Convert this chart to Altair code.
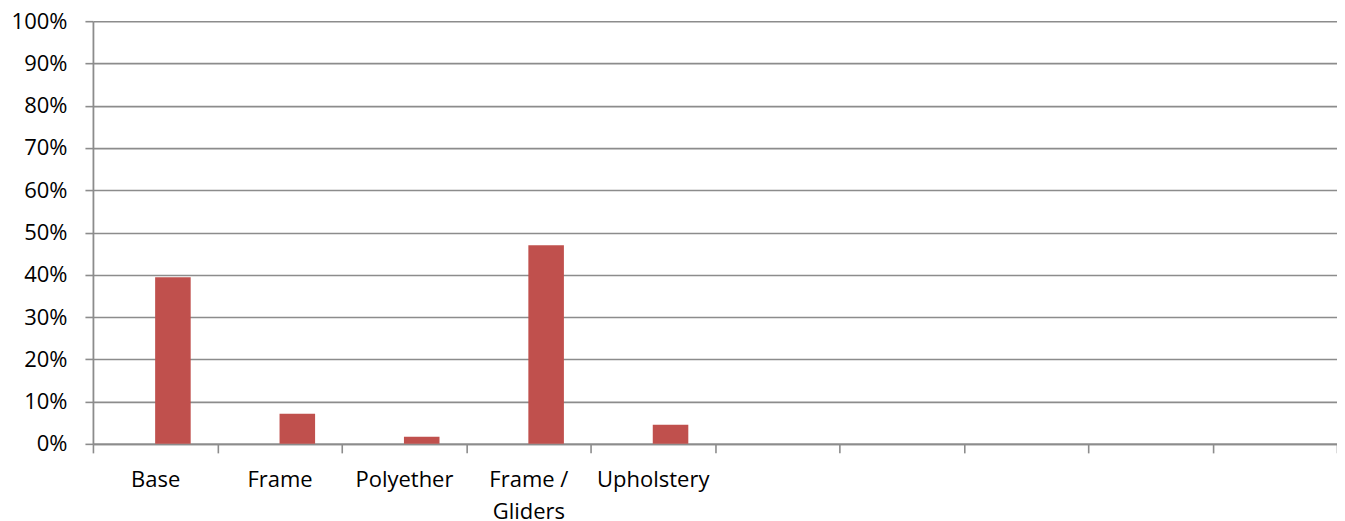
import altair as alt
import pandas as pd

categories = ["Base", "Frame", "Polyether", "Frame /|Gliders", "Upholstery"]
empty_slots = ["_6", "_7", "_8", "_9", "_10"]
values = [0.394, 0.071, 0.017, 0.470, 0.045]
series = ["S2"] * len(categories)

df = pd.DataFrame({"cat": categories, "val": values, "series": series})

FONT = "Open Sans"
GRID = "#8c8c8c"

chart = alt.Chart(df).mark_bar(color="#C0504D").encode(
    x=alt.X(
        "cat:N",
        sort=None,
        scale=alt.Scale(domain=categories + empty_slots, paddingInner=0, paddingOuter=0),
        axis=alt.Axis(
            title=None,
            labelAngle=0,
            labelExpr="indexof(datum.label, '_') == 0 ? '' : split(datum.label, '|')",
            tickBand="extent",
            tickSize=9,
            tickColor=GRID,
            domainColor=GRID,
            labelPadding=17,
            labelFont=FONT,
            labelFontSize=22,
            labelColor="#000000",
            labelLineHeight=32,
            labelBaseline="top",
            grid=False,
        ),
    ),
    xOffset=alt.XOffset(
        "series:N",
        scale=alt.Scale(domain=["S1", "S2"], paddingInner=0, paddingOuter=0.75),
    ),
    y=alt.Y(
        "val:Q",
        scale=alt.Scale(domain=[0, 1], nice=False),
        axis=alt.Axis(
            title=None,
            format=".0%",
            values=[i / 10 for i in range(11)],
            tickSize=8,
            tickColor=GRID,
            domainColor=GRID,
            gridColor=GRID,
            grid=True,
            labelPadding=18,
            labelFont=FONT,
            labelFontSize=22,
            labelColor="#000000",
        ),
    ),
).properties(
    width=1245,
    height=423,
    autosize=alt.AutoSizeParams(type="none"),
    padding={"left": 85, "top": 13, "right": 0, "bottom": 90},
).configure_view(stroke=None).configure_axis(domainWidth=1.8, gridWidth=1.6, tickWidth=1.6)

chart.save("out.html", embed_options={"renderer": "svg", "actions": False})
